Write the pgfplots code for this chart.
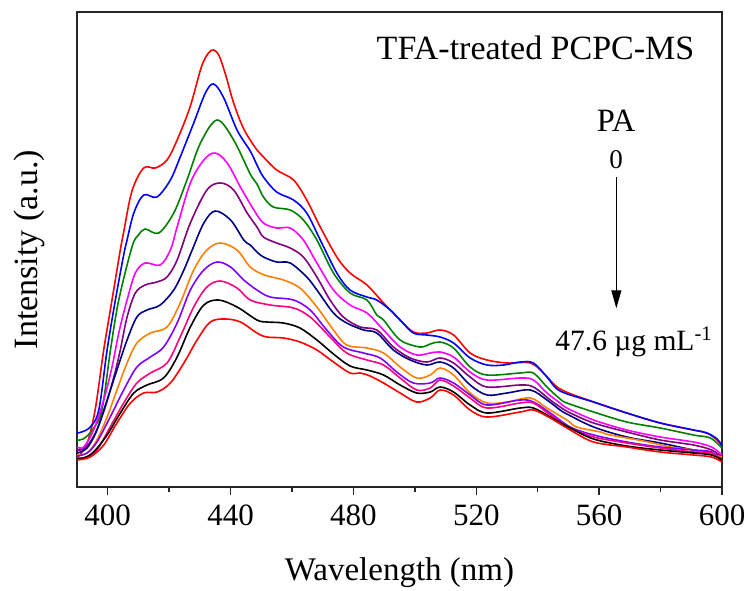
\documentclass[border=0pt]{standalone}
\usepackage{fontspec}
\setmainfont{Liberation Serif}
\usepackage{pgfplots}
\pgfplotsset{compat=1.18}
\usetikzlibrary{arrows.meta}
\definecolor{cRed}{RGB}{255,0,0}
\definecolor{cBlue}{RGB}{0,0,255}
\definecolor{cGreen}{RGB}{0,128,0}
\definecolor{cMag}{RGB}{255,0,255}
\definecolor{cPur}{RGB}{128,0,128}
\definecolor{cNavy}{RGB}{0,0,128}
\definecolor{cOra}{RGB}{255,128,0}
\definecolor{cVio}{RGB}{128,0,255}
\definecolor{cPink}{RGB}{255,0,128}
\begin{document}
\begin{tikzpicture}
\path[use as bounding box] (-77pt,-103pt) rectangle (671pt,487pt);
\begin{axis}[
  at={(0,0)}, anchor=south west, scale only axis,
  width=645pt, height=475pt,
  xmin=390, xmax=600, ymin=0, ymax=475,
  clip=false,
  xtick={400,440,...,600}, minor xtick={420,460,...,580},
  ytick=\empty,
  xtick pos=bottom, tick align=outside,
  major tick length=8pt, minor tick length=4.5pt,
  axis line style={line width=1.6pt, black!85},
  every tick/.style={black!85, line width=1.3pt},
  /pgf/number format/assume math mode=true,
  xticklabel style={font=\fontsize{31}{32}\selectfont, yshift=-6pt},
  every axis plot/.append style={line width=1.6pt, smooth, tension=0.55},
]
% top red
\addplot[cRed] coordinates {(390,29)(393.3,44)(395.9,77)(398.7,137)(401.4,187)(404.1,237)(405.2,255)(407.9,296)(411.7,319)(415.5,319)(419.3,327)(422.6,347)(426.8,380)(430.5,420)(432.8,434)(434.5,437)(436.3,431)(438.5,411)(441.0,384)(444.3,358)(448.6,337)(450.7,330)(455.0,317)(460.5,307)(464.8,287)(469.2,260)(474.6,230)(478.9,214)(484.4,202)(489.8,184)(495.2,167)(499.5,155)(503.9,154)(508.2,157)(512.6,152)(518.0,134)(523.5,127)(530,124)(537.6,124)(541.9,114)(547.3,98)(558.2,85)(569,74)(579.9,64)(590.7,57)(595.1,54)(598.4,47)(600,41)};
% blue
\addplot[cBlue] coordinates {(390,54)(391.5,55)(394.3,60)(397.1,77)(399.8,137)(402.5,187)(405.2,232)(406.3,247)(408.5,274)(411.7,292)(416.0,290)(420.4,307)(423.6,330)(428.0,364)(431.8,394)(434.5,403)(437.8,389)(442.1,357)(446.4,336)(448.6,322)(450.7,310)(455,295)(460.5,287)(464.8,274)(469.2,247)(474.6,214)(478.9,197)(484.4,190)(487.6,187)(492,177)(495.2,167)(499.5,154)(503.9,152)(508.2,150)(512.6,144)(518,129)(523.5,122)(528.9,122)(534.3,125)(538.6,124)(543,110)(547.3,96)(558.2,85)(569,74)(579.9,64)(590.7,57)(595.1,54)(598.4,48)(600,41)};
% green
\addplot[cGreen] coordinates {(390,47)(392,48)(395,57)(398.1,77)(400.9,137)(403.6,187)(407.9,240)(410,252)(412.2,258)(416.6,254)(421.5,274)(425.8,307)(430.2,344)(435.6,367)(441,347)(446.4,313)(448.6,303)(450.7,290)(453.9,280)(459.4,277)(463.7,267)(468.1,247)(473.5,214)(478.9,194)(484.4,187)(487.6,172)(489.8,167)(495.2,147)(501.7,140)(505,143)(508.2,145)(512.6,139)(518,120)(523.5,112)(534.3,114)(538.6,114)(543,100)(547.3,88)(549.5,84)(558.2,75)(569,65)(579.9,59)(590.7,52)(596.2,49)(600,39)};
% magenta
\addplot[cMag] coordinates {(390,40)(392.2,40)(395.4,57)(398.7,87)(401.4,120)(403.6,154)(406.3,187)(409,214)(412.2,224)(417.1,222)(420.4,237)(422.6,260)(426.9,304)(431.3,327)(435,334)(438.9,324)(443.2,300)(447.6,277)(450.7,264)(455,259)(459.4,259)(463.7,247)(468.1,224)(473.5,197)(478.9,182)(484.4,174)(489.8,157)(495.2,140)(500.6,132)(505,134)(508.2,135)(512.6,130)(518,115)(523.5,107)(534.3,109)(538.6,107)(543,94)(547.3,84)(549.5,79)(558.2,67)(569,57)(579.9,50)(590.7,45)(596.6,40)(600,32)};
% purple
\addplot[cPur] coordinates {(390,37)(392.7,39)(396,54)(399.2,80)(402,110)(404.1,137)(406.3,170)(409,194)(412.2,202)(416,205)(419.3,210)(422.6,227)(426.9,264)(432.3,297)(436.7,304)(441,297)(445.4,274)(448.6,260)(450.7,250)(455,244)(459.4,239)(463.7,230)(468.1,210)(472.4,187)(476.7,170)(482.2,160)(487.6,157)(493,140)(498.5,129)(503.9,125)(508.2,129)(512.6,124)(518,110)(523.5,100)(534.3,102)(538.6,100)(544.1,87)(547.3,80)(550.6,74)(558.2,64)(569,55)(579.9,47)(590.7,42)(596.6,37)(600,30)};
% navy
\addplot[cNavy] coordinates {(390,34)(393.3,39)(396.5,57)(399.8,87)(403,117)(406.3,147)(409.5,170)(412.8,177)(417.1,182)(421.5,197)(424.8,217)(427.5,237)(431.3,264)(435,276)(440,267)(444.3,247)(446.4,242)(448.6,235)(450.7,230)(455,225)(459.4,224)(464.8,210)(468.1,197)(473.5,174)(477.8,164)(483.3,157)(487.6,154)(493,137)(498.5,127)(503.9,122)(508.2,125)(512.6,119)(518,102)(523.5,92)(530,94)(537.6,97)(543,87)(547.3,77)(549.5,73)(558.2,60)(569,50)(579.9,44)(590.7,37)(596.6,34)(600,29)};
% orange
\addplot[cOra] coordinates {(390,32)(393.3,34)(396.5,47)(399.8,70)(403,97)(406.3,124)(409.5,144)(413.9,154)(419.3,160)(423.6,184)(428,217)(432.3,237)(436.7,244)(442.1,237)(446.4,220)(451,212)(457.2,207)(462.6,199)(468.1,180)(473.5,157)(477.8,142)(484.4,139)(489.8,134)(495.2,120)(500.6,109)(505,112)(508.2,119)(512.6,112)(518,94)(523.5,84)(530,85)(537.6,89)(543,79)(549.5,67)(552.7,60)(560.4,55)(563.6,52)(574.5,46)(583.2,40)(590.7,37)(600,30)};
% violet
\addplot[cVio] coordinates {(390,31)(393.3,34)(396.5,45)(400.8,70)(405.2,97)(409.5,120)(413.9,130)(418.2,140)(422.6,164)(426.9,197)(431.3,217)(435.6,225)(440,220)(444.3,207)(448.6,197)(452.9,190)(460.5,187)(465.9,177)(471.3,157)(476.7,140)(483.3,134)(488.7,129)(494.1,115)(499.5,104)(505,104)(508.2,109)(512.6,104)(518,92)(523.5,82)(534.3,87)(538.6,85)(544.1,74)(550.6,60)(558.2,52)(569,45)(579.9,40)(590.7,37)(596.6,35)(600,25)};
% pink
\addplot[cPink] coordinates {(390,29)(393.3,30)(396.5,37)(400.8,60)(405.2,84)(409.5,104)(413.9,114)(419.3,124)(423.6,150)(428,180)(432.3,200)(436.7,206)(442.1,199)(446.4,187)(452.9,182)(460.5,179)(465.9,170)(472.4,150)(477.8,134)(484.4,127)(489.8,122)(495.2,109)(500.6,97)(505,99)(508.2,107)(512.6,101)(518,89)(523.5,79)(534.3,84)(538.6,84)(544.1,72)(550.6,59)(558.2,50)(569,44)(579.9,39)(590.7,35)(596.6,34)(600,27)};
% black
\addplot[black] coordinates {(390,28)(392.2,29)(395.4,35)(399.8,52)(404.1,74)(408.5,94)(412.8,102)(418.2,109)(422.6,130)(426.9,160)(431.3,182)(436.1,187)(442.1,180)(448.6,167)(451.8,165)(457.2,164)(462.6,159)(468.1,147)(473.5,133)(478.9,121)(484.4,117)(489.8,112)(495.2,102)(500.6,94)(505,95)(508.2,100)(512.6,95)(518,82)(523.5,74)(534.3,79)(538.6,79)(544.1,70)(550.6,59)(558.2,48)(569,41)(579.9,37)(590.7,34)(596.6,32)(600,27)};
% bottom red
\addplot[cRed] coordinates {(390,27)(394.3,30)(398.7,42)(403,64)(407.4,84)(411.7,94)(416.1,95)(420.4,104)(424.8,124)(429.1,147)(433.4,165)(438.3,168)(443.2,165)(448.6,154)(451.8,150)(457.2,149)(462.6,145)(468.1,137)(473.5,125)(478.9,114)(482.2,114)(485.4,111)(489.8,104)(495.2,94)(500.6,85)(505,89)(508.2,97)(512.6,92)(518,77)(523.5,70)(534.3,75)(538.6,77)(544.1,69)(550.6,57)(558.2,45)(569,40)(579.9,35)(590.7,32)(596.6,30)(600,25)};

\node[anchor=base, font=\fontsize{34}{35}\selectfont] at (axis cs:539.3,427.7) {TFA-treated PCPC-MS};
\node[anchor=base, font=\fontsize{32.5}{34}\selectfont] at (axis cs:565.5,355.3) {PA};
\node[anchor=base, font=\fontsize{27}{28}\selectfont] at (axis cs:565.5,318.7) {0};
\draw[line width=1.1pt, -{Triangle[length=18pt,width=10pt]}] (axis cs:565.6,310) -- (axis cs:565.6,178.7);
\node[anchor=base west, inner sep=0pt, font=\fontsize{29.5}{30}\selectfont] at (axis cs:545.7,137) {47.6 µg mL\textsuperscript{-1}};
\node[anchor=base, font=\fontsize{33}{34}\selectfont] at (axis cs:495,-93) {Wavelength (nm)};
\node[anchor=base, rotate=90, font=\fontsize{34}{35}\selectfont] at (axis cs:377,237.5) {Intensity (a.u.)};
\end{axis}
\end{tikzpicture}
\end{document}
